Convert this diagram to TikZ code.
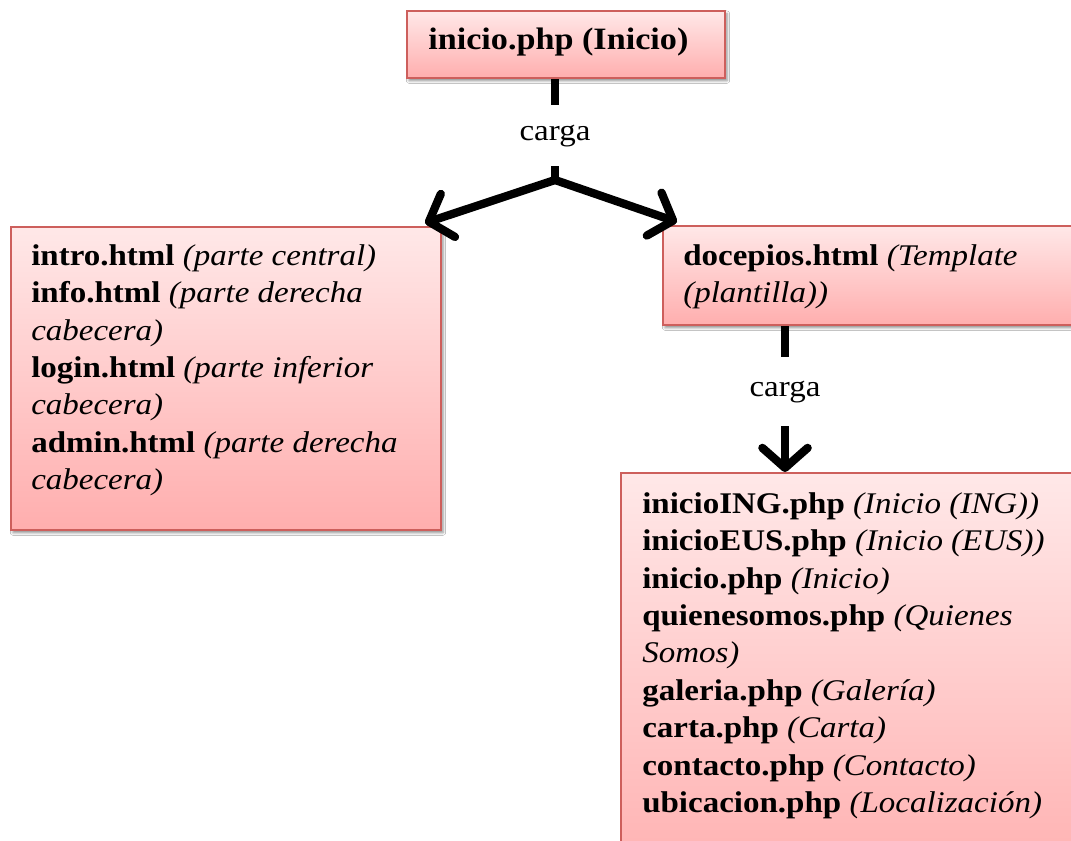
\documentclass[tikz,border=0pt]{standalone}
\usepackage{fontspec}
\setmainfont[FakeStretch=1.1]{Liberation Serif}
\usetikzlibrary{positioning,arrows.meta,calc,shadows.blur}
\definecolor{boxtop}{HTML}{FFE8E8}
\definecolor{boxbot}{HTML}{FFAEAE}
\definecolor{boxline}{HTML}{CD5F5C}

\begin{document}
\begin{tikzpicture}[x=0.75pt, y=-0.75pt,
  filebox/.style={rectangle, draw=boxline, line width=1.5pt, top color=boxtop, bottom color=boxbot,
    anchor=north west, inner sep=0pt,
    blur shadow={shadow xshift=1.5pt, shadow yshift=-2pt, shadow blur radius=2pt, shadow opacity=45}},
  filetext/.style={anchor=north west, inner sep=0pt, align=left, font=\fontsize{22.5}{28.1}\selectfont},
  link/.style={line width=6.2pt},
  loads/.style={link, -{Straight Barb[length=15pt, width=34pt, round]}},
  lbl/.style={fill=white, inner xsep=6pt, minimum height=46pt, font=\fontsize{22.5}{26}\selectfont}
]
  \fill[white] (0,0) rectangle (1071,841);
  \path[use as bounding box, clip] (0,0) rectangle (1071,841);

  % main page
  \node[filebox, minimum width=238.5pt, minimum height=50.25pt] (start) at (406,10) {};
  \node[filetext, font=\fontsize{23.3}{28}\selectfont] (starttxt) at (428,28) {\textbf{inicio.php (Inicio)}};

  % loaded pieces
  \node[filebox, minimum width=322.5pt, minimum height=227.25pt] (files) at (10,226) {};
  \node[filetext] (filestxt) at (31,244) {%
    \textbf{intro.html} \textit{(parte central)}\\
    \textbf{info.html} \textit{(parte derecha}\\
    \textit{cabecera)}\\
    \textbf{login.html} \textit{(parte inferior}\\
    \textit{cabecera)}\\
    \textbf{admin.html} \textit{(parte derecha}\\
    \textit{cabecera)}};

  % template
  \node[filebox, minimum width=375pt, minimum height=74.25pt] (tpl) at (662,225) {};
  \node[filetext] (tpltxt) at (683,244) {%
    \textbf{docepios.html} \textit{(Template}\\
    \textit{(plantilla))}};

  % pages loaded by the template
  \node[filebox, minimum width=375pt, minimum height=320pt] (pages) at (620,472) {};
  \node[filetext] (pagestxt) at (642,492) {%
    \textbf{inicioING.php} \textit{(Inicio (ING))}\\
    \textbf{inicioEUS.php} \textit{(Inicio (EUS))}\\
    \textbf{inicio.php} \textit{(Inicio)}\\
    \textbf{quienesomos.php} \textit{(Quienes}\\
    \textit{Somos)}\\
    \textbf{galeria.php} \textit{(Galería)}\\
    \textbf{carta.php} \textit{(Carta)}\\
    \textbf{contacto.php} \textit{(Contacto)}\\
    \textbf{ubicacion.php} \textit{(Localización)}};

  % connectors
  \coordinate (split) at (555,180);
  \coordinate (drop) at (785,0);
  \draw[link] (start.south -| split) -- node[lbl, pos=0.56] (carga1) {carga} (split);
  \draw[loads] (split) -- ($(files.north east)+(-17,-3)$);
  \draw[loads] (split) -- ($(tpl.north west)+(15,-3)$);
  \draw[loads] (tpl.south -| drop) -- node[lbl, pos=0.45, minimum height=52pt] (carga2) {carga} (pages.north -| drop);
\end{tikzpicture}
\end{document}
